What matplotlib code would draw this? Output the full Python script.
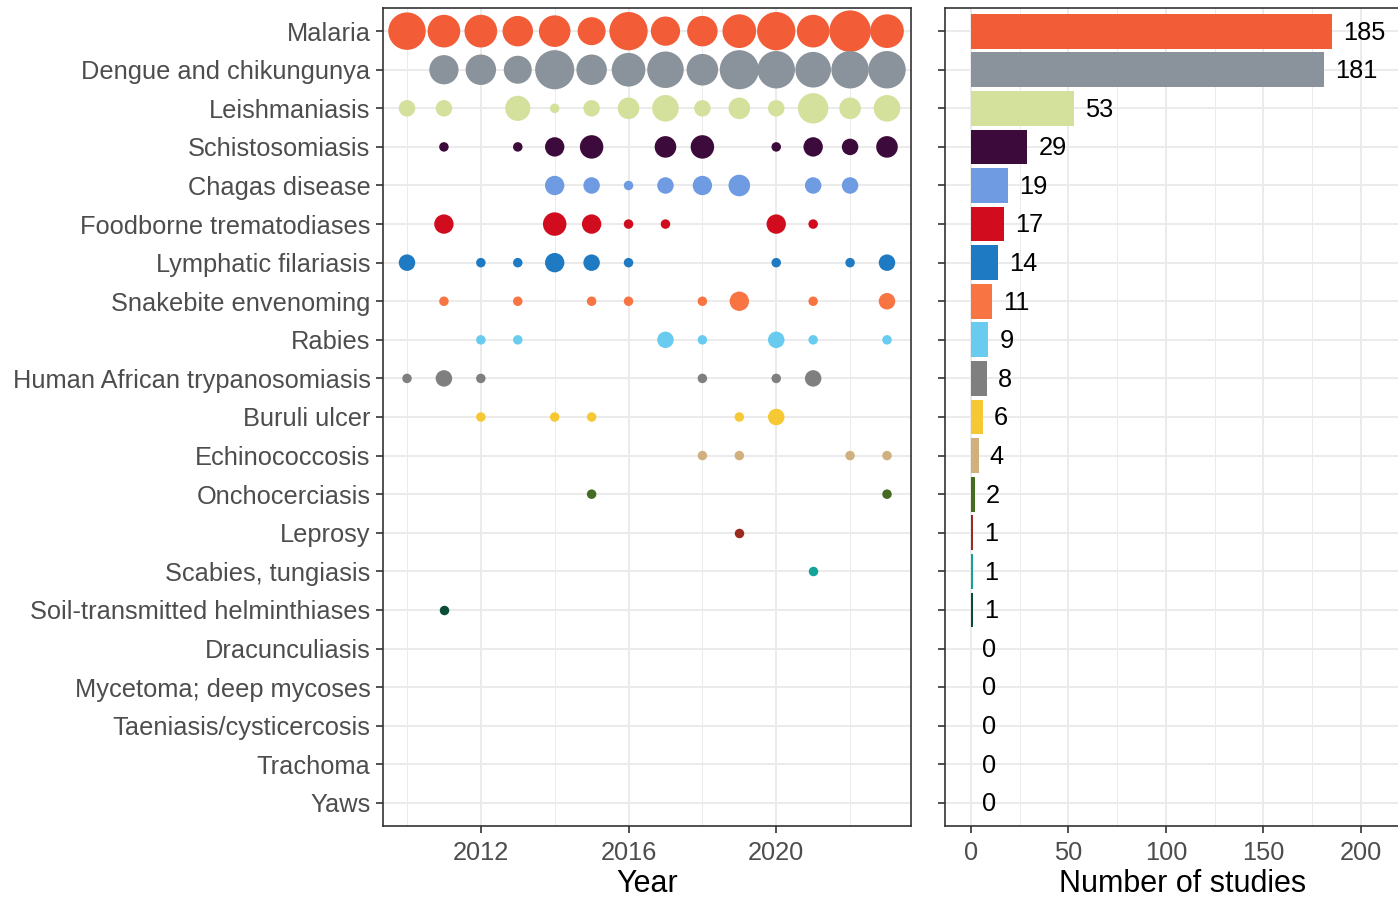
import numpy as np
import matplotlib

matplotlib.use("Agg")
import matplotlib.pyplot as plt

plt.rcParams["font.family"] = ["Liberation Sans", "DejaVu Sans"]

INK = "#333333"
TXT = "#4D4D4D"
GRID = "#EBEBEB"

YEARS = list(range(2010, 2024))

DISEASES = [
    "Malaria", "Dengue and chikungunya", "Leishmaniasis", "Schistosomiasis",
    "Chagas disease", "Foodborne trematodiases", "Lymphatic filariasis",
    "Snakebite envenoming", "Rabies", "Human African trypanosomiasis",
    "Buruli ulcer", "Echinococcosis", "Onchocerciasis", "Leprosy",
    "Scabies, tungiasis", "Soil-transmitted helminthiases", "Dracunculiasis",
    "Mycetoma; deep mycoses", "Taeniasis/cysticercosis", "Trachoma", "Yaws",
]

COLORS = [
    "#F25C36", "#8A939B", "#D3E19C", "#3C0A3B", "#6E9BE2", "#D00C1E",
    "#1E7AC2", "#F97443", "#6ACBF0", "#7F7F7F", "#F6C834", "#D0B07F",
    "#456B23", "#9A2B1F", "#13A39A", "#0A4D35", "#999999", "#999999",
    "#999999", "#999999", "#999999",
]

# studies per year, 2010..2023
MALARIA = [17, 12, 12, 10, 11, 8, 18, 9, 10, 13, 18, 12, 22, 13]
DENGUE = [0, 9, 10, 8, 19, 10, 13, 16, 11, 19, 17, 15, 17, 17]
LEISH = [2, 2, 0, 6, 1, 2, 4, 7, 2, 4, 2, 10, 4, 7]
SCHISTO = [0, 1, 0, 1, 3, 5, 0, 4, 5, 0, 1, 3, 2, 4]
CHAGAS = [0, 0, 0, 0, 3, 2, 1, 2, 3, 4, 0, 2, 2, 0]
FOODBORNE = [0, 3, 0, 0, 5, 3, 1, 1, 0, 0, 3, 1, 0, 0]
LYMPHATIC = [2, 0, 1, 1, 3, 2, 1, 0, 0, 0, 1, 0, 1, 2]
SNAKEBITE = [0, 1, 0, 1, 0, 1, 1, 0, 1, 3, 0, 1, 0, 2]
RABIES = [0, 0, 1, 1, 0, 0, 0, 2, 1, 0, 2, 1, 0, 1]
HAT = [1, 2, 1, 0, 0, 0, 0, 0, 1, 0, 1, 2, 0, 0]
BURULI = [0, 0, 1, 0, 1, 1, 0, 0, 0, 1, 2, 0, 0, 0]
ECHINO = [0, 0, 0, 0, 0, 0, 0, 0, 1, 1, 0, 0, 1, 1]
ONCHO = [0, 0, 0, 0, 0, 1, 0, 0, 0, 0, 0, 0, 0, 1]
LEPROSY = [0, 0, 0, 0, 0, 0, 0, 0, 0, 1, 0, 0, 0, 0]
SCABIES = [0, 0, 0, 0, 0, 0, 0, 0, 0, 0, 0, 1, 0, 0]
STH = [0, 1, 0, 0, 0, 0, 0, 0, 0, 0, 0, 0, 0, 0]
NONE = [0] * 14

COUNTS = [MALARIA, DENGUE, LEISH, SCHISTO, CHAGAS, FOODBORNE, LYMPHATIC,
          SNAKEBITE, RABIES, HAT, BURULI, ECHINO, ONCHO, LEPROSY, SCABIES,
          STH, NONE, NONE, NONE, NONE, NONE]

TOTALS = [185, 181, 53, 29, 19, 17, 14, 11, 9, 8, 6, 4, 2, 1, 1, 1, 0, 0, 0, 0, 0]

W, H, DPI = 1398, 902, 100
fig = plt.figure(figsize=(W / DPI, H / DPI), dpi=DPI)
fig.patch.set_facecolor("white")


def px_axes(x0, y0, x1, y1):
    return fig.add_axes([x0 / W, 1 - y1 / H, (x1 - x0) / W, (y1 - y0) / H])


def style(ax):
    ax.set_axisbelow(True)
    ax.grid(True, which="major", color=GRID, lw=1.4)
    ax.grid(True, which="minor", color=GRID, lw=0.7)
    for s in ax.spines.values():
        s.set_color(INK)
        s.set_linewidth(1.2)
    ax.tick_params(which="major", length=5, width=1.2, color=INK,
                   labelcolor=TXT, labelsize=18.3)
    ax.tick_params(axis="y", pad=4)
    ax.tick_params(axis="x", pad=6)
    ax.tick_params(which="minor", length=0)


n = len(DISEASES)
ypos = np.arange(n)[::-1]

# ── bubble panel ─────────────────────────────────────────────
ax1 = px_axes(383, 8, 911, 826)
cmax = max(max(row) for row in COUNTS)
DMIN, DMAX = 9.5, 41.5  # bubble diameter range, px


def bubble_area(c):
    d = DMIN + (DMAX - DMIN) * np.sqrt((c - 1) / (cmax - 1))
    return (d * 72 / DPI) ** 2


for y, row, col in zip(ypos, COUNTS, COLORS):
    xs = [yr for yr, c in zip(YEARS, row) if c > 0]
    cs = np.array([c for c in row if c > 0], dtype=float)
    if len(xs):
        ax1.scatter(xs, [y] * len(xs), s=bubble_area(cs), color=col,
                    linewidths=0, zorder=3)

ax1.set_xlim(2009.35, 2023.65)
ax1.set_ylim(-0.6, n - 0.4)
ax1.set_xticks([2012, 2016, 2020])
ax1.set_xticks([2010, 2014, 2018, 2022], minor=True)
ax1.set_yticks(ypos)
ax1.set_yticklabels(DISEASES)
ax1.set_xlabel("Year", fontsize=22, color="black", labelpad=3)
style(ax1)

# ── totals panel ─────────────────────────────────────────────
ax2 = px_axes(945, 8, 1420, 826)
ax2.barh(ypos, TOTALS, height=0.9, color=COLORS, zorder=3)
for y, v in zip(ypos, TOTALS):
    ax2.annotate(f"{v}", (v, y), xytext=(8, -1), textcoords="offset points",
                 ha="left", va="center", fontsize=18.3, color="black")
ax2.set_xlim(-13.3, 230.3)
ax2.set_ylim(-0.6, n - 0.4)
ax2.set_xticks([0, 50, 100, 150, 200])
ax2.set_xticks([25, 75, 125, 175, 225], minor=True)
ax2.set_yticks(ypos)
ax2.set_yticklabels([])
ax2.set_xlabel("Number of studies", fontsize=22, color="black", labelpad=3)
style(ax2)

fig.savefig("out.png", dpi=DPI)
